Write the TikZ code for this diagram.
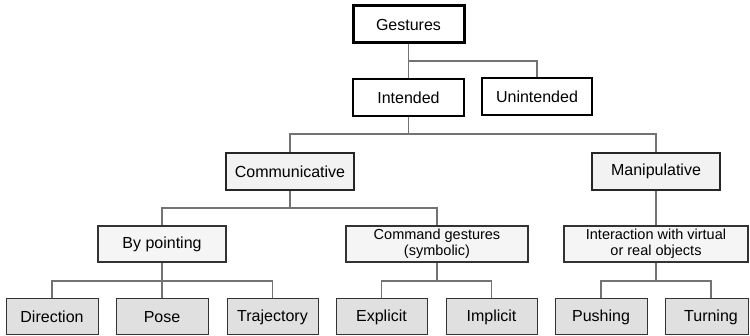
\documentclass[tikz,border=0pt]{standalone}
\usepackage{fontspec}
\setmainfont{Liberation Sans}
\begin{document}
\begin{tikzpicture}[x=1pt,y=-1pt,
  box/.style={draw, inner sep=0pt, align=center, font=\fontsize{16}{18}\selectfont},
  level0/.style={box, line width=3pt, draw=black, fill=white, minimum width=111pt, minimum height=37pt},
  level1/.style={box, line width=2pt, draw=black, fill=white, minimum width=111pt, minimum height=37pt},
  level2/.style={box, line width=1.8pt, draw=black!85, fill=black!5, minimum width=128pt, minimum height=37pt},
  level3/.style={box, line width=1.5pt, draw=black!80, fill=black!4, minimum height=36pt},
  small/.style={font=\fontsize{14.5}{15.5}\selectfont},
  leaf/.style={box, line width=1pt, draw=black!80, fill=black!12, minimum width=91pt, minimum height=36pt},
  conn/.style={draw=black!55, line width=1.3pt}]
\useasboundingbox (0,0) rectangle (750,336);

% bus levels
\coordinate (b1) at (0,61);
\coordinate (b2) at (0,134);
\coordinate (b3) at (0,208);
\coordinate (b4) at (0,281);
\coordinate (tx) at (711,0);

% nodes
\node[level0] (G) at (408.5,24.5) {Gestures};
\node[level1] (I) at (408.5,98) {Intended};
\node[level1, minimum width=110pt] (U) at (537,97) {Unintended};

\node[level2] (C) at (290,171.5) {Communicative};
\node[level2] (M) at (656,171.5) {Manipulative};

\node[level3, minimum width=128pt] (P) at (162,244) {By pointing};
\node[level3, small, minimum width=182pt] (S) at (437,244) {Command gestures\\(symbolic)};
\node[level3, small, minimum width=184pt] (V) at (656,244) {Interaction with virtual\\or real objects};

\node[leaf, minimum width=92pt] (D) at (52,317) {Direction};
\node[leaf, minimum width=92pt] (Po) at (162,317) {Pose};
\node[leaf] (T) at (272.5,317) {Trajectory};
\node[leaf] (E) at (381.5,317) {Explicit};
\node[leaf] (Im) at (491.5,317) {Implicit};
\node[leaf, minimum width=92pt] (Pu) at (601,317) {Pushing};
\node[leaf, minimum width=83pt, text width=83pt, align=center] (Tu) at (706.5,317) {\hspace*{9pt}Turning};

% tree connectors
\draw[conn] (G.south) -- (I.north);
\draw[conn] (G.south|-b1) -| (U.north);

\draw[conn] (I.south) -- (I.south|-b2);
\draw[conn] (C.north) |- (M.north|-b2) -- (M.north);

\draw[conn] (C.south) -- (C.south|-b3);
\draw[conn] (P.north) |- (S.north|-b3) -- (S.north);
\draw[conn] (M.south) -- (V.north);

\draw[conn] (P.south) -- (Po.north);
\draw[conn] (D.north) |- (T.north|-b4) -- (T.north);

\draw[conn] (S.south) -- (S.south|-b4);
\draw[conn] (E.north) |- (Im.north|-b4) -- (Im.north);

\draw[conn] (V.south) -- (V.south|-b4);
\draw[conn] (Pu.north) |- (tx|-b4) -- (tx|-Tu.north);
\end{tikzpicture}
\end{document}
